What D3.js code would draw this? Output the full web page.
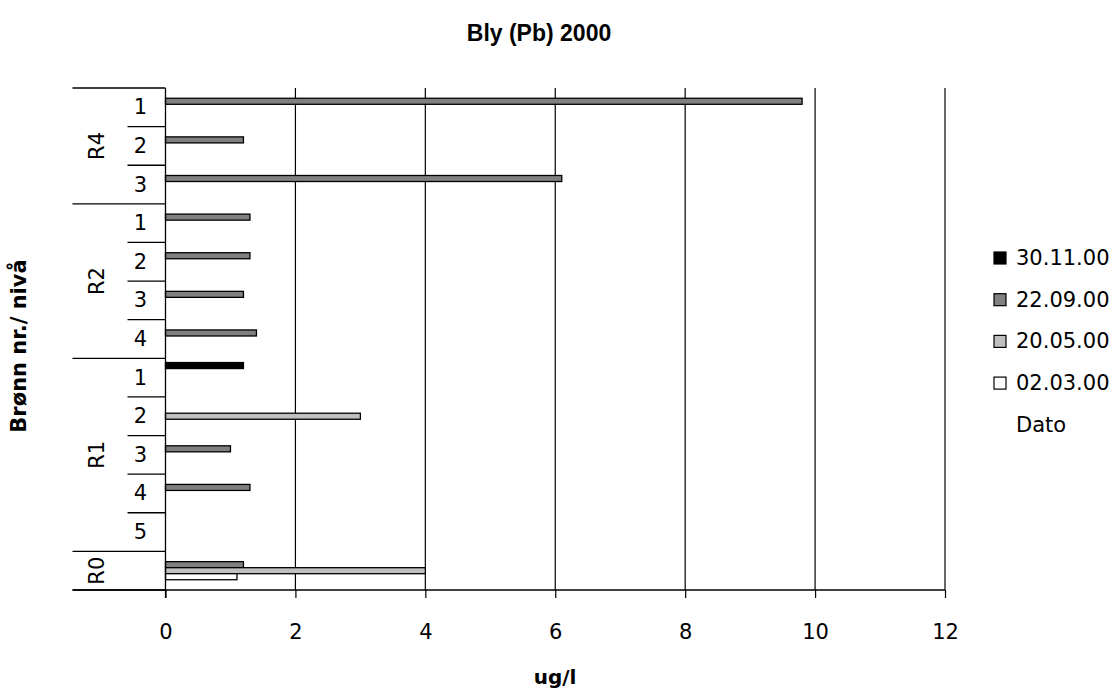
<!DOCTYPE html>
<html>
<head>
<meta charset="utf-8">
<script src="https://cdn.jsdelivr.net/npm/d3@7"></script>
<style>
  body { margin: 0; background: #fff; }
  text { font-family: "DejaVu Sans", sans-serif; fill: #000; }
</style>
</head>
<body>
<div id="chart"></div>
<script>
// categories, top to bottom
var groups = ["R4", "R4", "R4", "R2", "R2", "R2", "R2", "R1", "R1", "R1", "R1", "R1", "R0"];
var levels = ["1", "2", "3", "1", "2", "3", "4", "1", "2", "3", "4", "5", ""];

var seriesNames = ["30.11.00", "22.09.00", "20.05.00", "02.03.00"];
var seriesColors = ["#000000", "#808080", "#c0c0c0", "#ffffff"];

// ug/l per date
var v301100 = [null, null, null, null, null, null, null, 1.2, null, null, null, null, null];
var v220900 = [9.8, 1.2, 6.1, 1.3, 1.3, 1.2, 1.4, null, null, 1.0, 1.3, null, 1.2];
var v200500 = [null, null, null, null, null, null, null, null, 3.0, null, null, null, 4.0];
var v020300 = [null, null, null, null, null, null, null, null, null, null, null, null, 1.1];

var xTicks = [0, 2, 4, 6, 8, 10, 12];

var seriesValues = [v301100, v220900, v200500, v020300];

var width = 1118, height = 689;
var margin = { top: 88, right: 173, bottom: 99, left: 165.5 };
var plotW = width - margin.left - margin.right;
var plotH = height - margin.top - margin.bottom;
var labelFont = "21px";

var svg = d3.select("#chart")
    .append("svg")
    .attr("width", width)
    .attr("height", height);

var g = svg.append("g")
    .attr("transform", "translate(" + margin.left + "," + margin.top + ")");

var cats = groups.map(function(d, i) { return i; });

var yScale = d3.scaleBand()
    .domain(cats)
    .range([0, plotH]);

// 5 slots per category (the 5th is the empty "Dato" entry)
var slotNames = seriesNames.concat(["Dato"]);
var ySub = d3.scaleBand()
    .domain(slotNames)
    .range([0, yScale.bandwidth()])
    .paddingOuter(0.7);

var xScale = d3.scaleLinear()
    .domain([0, 12])
    .range([0, plotW]);

// gridlines
g.selectAll(".grid")
    .data(xTicks.slice(1))
    .enter()
    .append("line")
    .attr("x1", function(d) { return xScale(d); })
    .attr("x2", function(d) { return xScale(d); })
    .attr("y1", 0)
    .attr("y2", plotH)
    .attr("stroke", "#000")
    .attr("stroke-width", 1.2);

// bars
var barData = [];
seriesValues.forEach(function(vals, s) {
    vals.forEach(function(v, i) {
        if (v != null) barData.push({ cat: i, series: seriesNames[s], color: seriesColors[s], value: v });
    });
});

g.selectAll("rect.bar")
    .data(barData)
    .enter()
    .append("rect")
    .attr("class", "bar")
    .attr("x", 0)
    .attr("y", function(d) { return yScale(d.cat) + ySub(d.series); })
    .attr("width", function(d) { return xScale(d.value); })
    .attr("height", ySub.bandwidth())
    .attr("fill", function(d) { return d.color; })
    .attr("stroke", "#000")
    .attr("stroke-width", 1.3);

// x axis
var xAxis = g.append("g")
    .attr("transform", "translate(0," + plotH + ")")
    .call(d3.axisBottom(xScale).tickValues(xTicks).tickSize(8).tickSizeOuter(0).tickPadding(26));
xAxis.select(".domain").remove();
xAxis.selectAll(".tick line").attr("stroke", "#000").attr("stroke-width", 1.2);
xAxis.selectAll(".tick text")
    .style("font-family", "'DejaVu Sans', sans-serif")
    .style("font-size", labelFont)
    .attr("fill", "#000");

// axis line (extends under the category labels)
g.append("line")
    .attr("x1", -93).attr("x2", plotW)
    .attr("y1", plotH).attr("y2", plotH)
    .attr("stroke", "#000").attr("stroke-width", 1.3);

// y axis line
g.append("line")
    .attr("x1", 0).attr("x2", 0)
    .attr("y1", 0).attr("y2", plotH + 8)
    .attr("stroke", "#000").attr("stroke-width", 1.3);

// category separators
var bounds = d3.range(cats.length + 1);
g.selectAll(".sep")
    .data(bounds)
    .enter()
    .append("line")
    .attr("x1", function(i) {
        var groupEdge = i === 0 || i === cats.length || groups[i] !== groups[i - 1];
        return groupEdge ? -93 : -38;
    })
    .attr("x2", 0)
    .attr("y1", function(i) { return i < cats.length ? yScale(i) : plotH; })
    .attr("y2", function(i) { return i < cats.length ? yScale(i) : plotH; })
    .attr("stroke", "#000")
    .attr("stroke-width", 1.3);

// level labels
g.selectAll(".lvl")
    .data(cats.filter(function(i) { return levels[i] !== ""; }))
    .enter()
    .append("text")
    .attr("x", -25)
    .attr("y", function(i) { return yScale(i) + yScale.bandwidth() / 2; })
    .attr("text-anchor", "middle")
    .attr("dominant-baseline", "central")
    .style("font-size", labelFont)
    .text(function(i) { return levels[i]; });

// group labels
var groupNames = Array.from(new Set(groups));
g.selectAll(".grp")
    .data(groupNames)
    .enter()
    .append("text")
    .attr("transform", function(name) {
        var idx = cats.filter(function(i) { return groups[i] === name; });
        var y0 = yScale(idx[0]);
        var y1 = yScale(idx[idx.length - 1]) + yScale.bandwidth();
        return "translate(-69," + ((y0 + y1) / 2) + ") rotate(-90)";
    })
    .attr("text-anchor", "middle")
    .attr("dominant-baseline", "central")
    .style("font-size", labelFont)
    .text(function(d) { return d; });

// titles
svg.append("text")
    .attr("x", 539)
    .attr("y", 33)
    .attr("text-anchor", "middle")
    .attr("dominant-baseline", "central")
    .style("font-family", "'Liberation Sans', Arial, sans-serif")
    .style("font-size", "23px")
    .style("font-weight", "bold")
    .text("Bly (Pb) 2000");

svg.append("text")
    .attr("x", 555)
    .attr("y", 677)
    .attr("text-anchor", "middle")
    .attr("dominant-baseline", "central")
    .style("font-size", "20px")
    .style("font-weight", "bold")
    .text("ug/l");

svg.append("text")
    .attr("transform", "translate(19,346) rotate(-90)")
    .attr("text-anchor", "middle")
    .attr("dominant-baseline", "central")
    .style("font-size", "21px")
    .style("font-weight", "bold")
    .text("Brønn nr./ nivå");

// legend
var legend = svg.append("g")
    .attr("transform", "translate(994,258)");

var legendItems = legend.selectAll(".leg")
    .data(slotNames)
    .enter()
    .append("g")
    .attr("transform", function(d, i) { return "translate(0," + (i * 41.7) + ")"; });

legendItems.filter(function(d, i) { return i < seriesNames.length; })
    .append("rect")
    .attr("x", 0)
    .attr("y", -6)
    .attr("width", 12)
    .attr("height", 12)
    .attr("fill", function(d, i) { return seriesColors[i]; })
    .attr("stroke", "#000")
    .attr("stroke-width", 1.2);

legendItems.append("text")
    .attr("x", 22)
    .attr("y", 0)
    .attr("dominant-baseline", "central")
    .style("font-size", labelFont)
    .text(function(d) { return d; });
</script>
</body>
</html>
